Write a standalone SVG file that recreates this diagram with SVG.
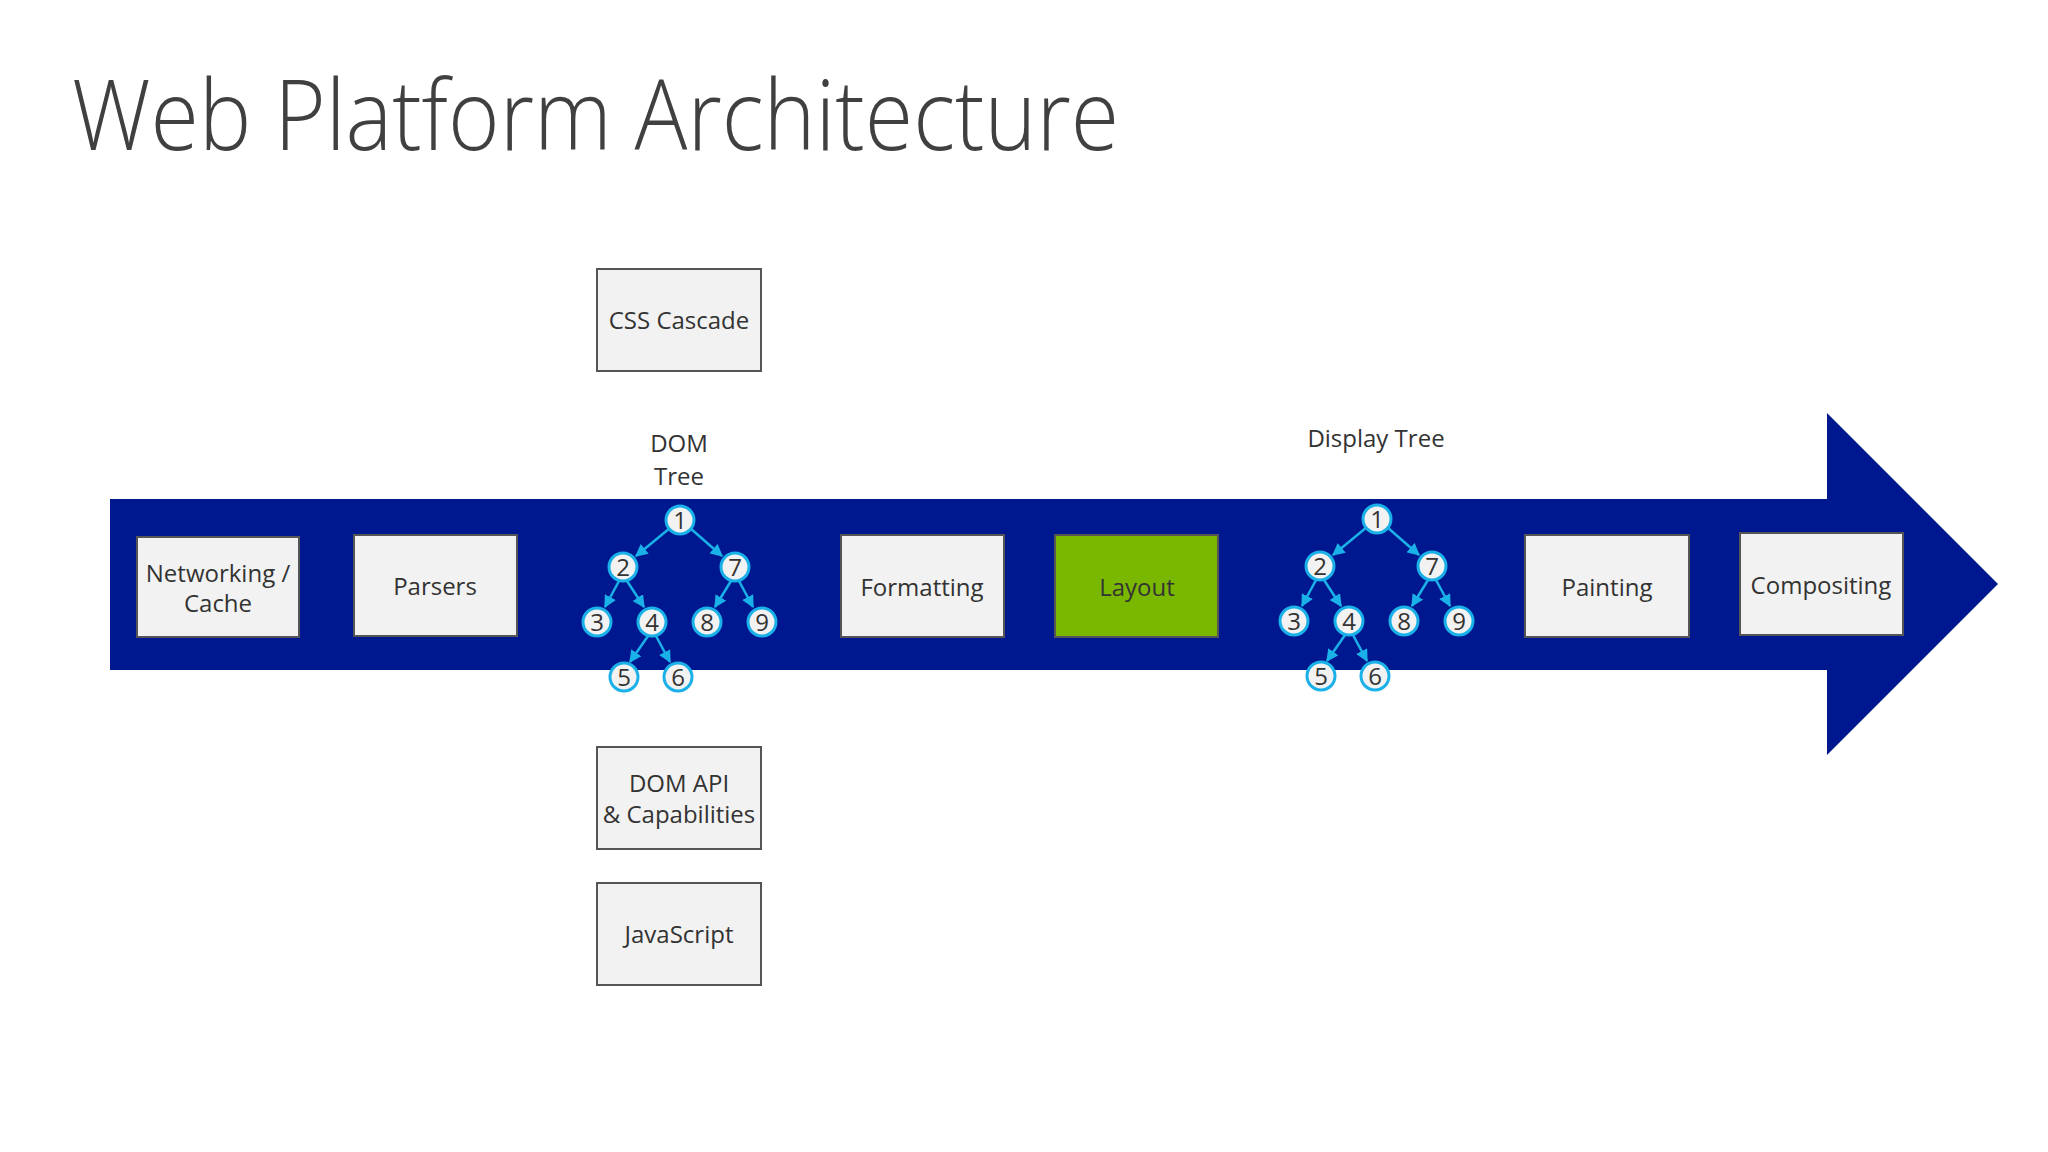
<svg xmlns="http://www.w3.org/2000/svg" width="2048" height="1152" viewBox="0 0 2048 1152">
<defs>
<style>
.box{fill:#f2f2f2;stroke:#555;stroke-width:2}
.t{font-family:"Open Sans",sans-serif;font-size:24px;fill:#333;text-anchor:middle}
.c{fill:#f2f2f2;stroke:#1ab0e8;stroke-width:3}
.n{font-family:"Open Sans",sans-serif;font-size:24px;fill:#333;text-anchor:middle}
.e{stroke:#1ab0e8;stroke-width:2.5;marker-end:url(#ah)}
</style>
<marker id="ah" viewBox="0 0 10 10" refX="9" refY="5" markerWidth="5" markerHeight="5" orient="auto"><path d="M0,0 L10,5 L0,10 z" fill="#1ab0e8"/></marker>
<g id="tree">
<line class="e" x1="670" y1="528" x2="636" y2="556"/>
<line class="e" x1="690" y1="528" x2="722" y2="556"/>
<line class="e" x1="619" y1="581" x2="605" y2="607"/>
<line class="e" x1="627" y1="581" x2="644" y2="607"/>
<line class="e" x1="731" y1="581" x2="715" y2="607"/>
<line class="e" x1="739" y1="581" x2="753" y2="607"/>
<line class="e" x1="648" y1="636" x2="630" y2="662"/>
<line class="e" x1="656" y1="636" x2="670" y2="662"/>
<circle class="c" cx="680" cy="520" r="14"/><text class="n" x="680" y="529">1</text>
<circle class="c" cx="623" cy="567" r="14"/><text class="n" x="623" y="576">2</text>
<circle class="c" cx="735" cy="567" r="14"/><text class="n" x="735" y="576">7</text>
<circle class="c" cx="597" cy="622" r="14"/><text class="n" x="597" y="631">3</text>
<circle class="c" cx="652" cy="622" r="14"/><text class="n" x="652" y="631">4</text>
<circle class="c" cx="707" cy="622" r="14"/><text class="n" x="707" y="631">8</text>
<circle class="c" cx="762" cy="622" r="14"/><text class="n" x="762" y="631">9</text>
<circle class="c" cx="624" cy="677" r="14"/><text class="n" x="624" y="686">5</text>
<circle class="c" cx="678" cy="677" r="14"/><text class="n" x="678" y="686">6</text>
</g>
</defs>
<rect width="2048" height="1152" fill="#fff"/>
<text x="72" y="150" font-family="Open Sans,sans-serif" font-weight="300" font-size="98" fill="#404040" textLength="1047" lengthAdjust="spacingAndGlyphs">Web Platform Architecture</text>
<g id="arrow"><path d="M110,499 H1827 V413 L1998,584 L1827,755 V670 H110 Z" fill="#00188f"/></g>
<g id="networking"><rect class="box" x="137" y="537" width="162" height="100"/><text class="t" x="218" y="582">Networking /</text><text class="t" x="218" y="612">Cache</text></g>
<g id="parsers"><rect class="box" x="354" y="535" width="163" height="101"/><text class="t" x="435" y="595">Parsers</text></g>
<g id="css"><rect class="box" x="597" y="269" width="164" height="102"/><text class="t" x="679" y="329">CSS Cascade</text></g>
<g id="domapi"><rect class="box" x="597" y="747" width="164" height="102"/><text class="t" x="679" y="792">DOM API</text><text class="t" x="679" y="823">&amp; Capabilities</text></g>
<g id="js"><rect class="box" x="597" y="883" width="164" height="102"/><text class="t" x="679" y="943">JavaScript</text></g>
<g id="formatting"><rect class="box" x="841" y="535" width="163" height="102"/><text class="t" x="922" y="596">Formatting</text></g>
<g id="layout"><rect x="1055" y="535" width="163" height="102" fill="#7ab800" stroke="#555" stroke-width="2"/><text class="t" x="1137" y="596">Layout</text></g>
<g id="painting"><rect class="box" x="1525" y="535" width="164" height="102"/><text class="t" x="1607" y="596">Painting</text></g>
<g id="compositing"><rect class="box" x="1740" y="533" width="163" height="102"/><text class="t" x="1821" y="594">Compositing</text></g>
<g id="domtree"><text class="t" x="679" y="452">DOM</text><text class="t" x="679" y="485">Tree</text><use href="#tree"/></g>
<g id="displaytree"><text class="t" x="1376" y="447">Display Tree</text><use href="#tree" transform="translate(697,-1)"/></g>
</svg>
